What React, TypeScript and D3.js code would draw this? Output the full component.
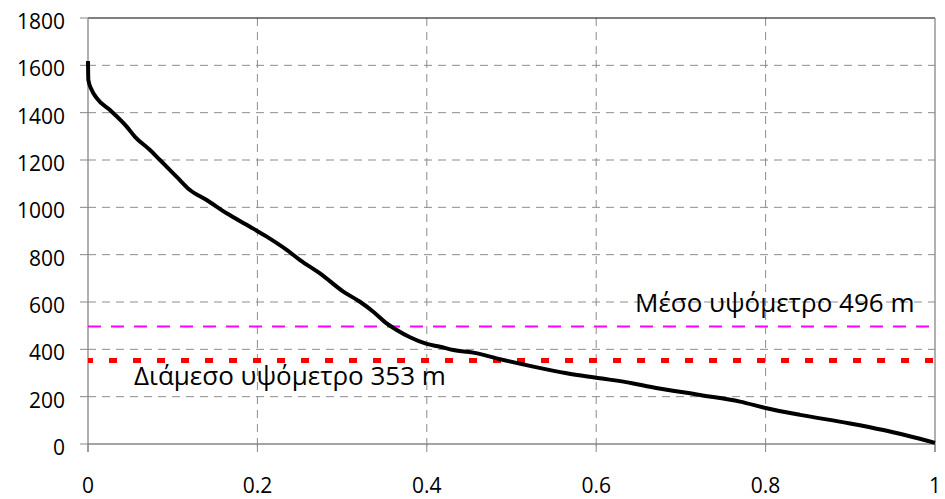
import React from "react";
import * as d3 from "d3";

const shareX = [0, 0.0004, 0.0044, 0.0103, 0.026, 0.0457, 0.0555, 0.0732, 0.085, 0.1047, 0.1204, 0.1401, 0.1637, 0.1913, 0.211, 0.2346, 0.2503, 0.2739, 0.3014, 0.3211, 0.3368, 0.3526, 0.3645, 0.3802, 0.3999, 0.4156, 0.4313, 0.4549, 0.4825, 0.5258, 0.5652, 0.6045, 0.6438, 0.6635, 0.7226, 0.7698, 0.8013, 0.8406, 0.8997, 0.939, 1.0];
const elevation = [1618, 1538, 1496, 1461, 1411, 1341, 1298, 1242, 1200, 1129, 1073, 1031, 975, 918, 876, 820, 777, 721, 644, 601, 559, 510, 482, 451, 423, 411, 397, 386, 362, 327, 299, 278, 256, 242, 207, 179, 151, 123, 87, 59, 5];

const xTicks = [0, 0.2, 0.4, 0.6, 0.8, 1];
const xTickLabels = ["0", "0.2", "0.4", "0.6", "0.8", "1"];
const yTicks = [0, 200, 400, 600, 800, 1000, 1200, 1400, 1600, 1800];

const meanValue = 496;
const medianValue = 353;
const meanLabel = "Μέσο υψόμετρο 496 m";
const medianLabel = "Διάμεσο υψόμετρο 353 m";

const W = 945;
const H = 499;
const left = 88;
const right = 935;
const top = 18;
const bottom = 444;

export default function App() {
  const x = d3.scaleLinear().domain([0, 1]).range([left, right]);
  const y = d3.scaleLinear().domain([0, 1800]).range([bottom, top]);
  const pts: [number, number][] = shareX.map((v, i) => [v, elevation[i]]);
  const line = d3
    .line<[number, number]>()
    .x((d) => x(d[0]))
    .y((d) => y(d[1]))
    .curve(d3.curveMonotoneX);
  const font = "'Open Sans', sans-serif";
  const gridColor = "#8c8c8c";
  const axisColor = "#868686";
  return (
    <svg width={W} height={H} style={{ position: "absolute", left: 0, top: 0, background: "#fff" }}>
      <rect x={0} y={0} width={W} height={H} fill="#fff" />
      {yTicks.filter((t) => t > 0 && t < 1800).map((t) => (
        <line key={"hg" + t} x1={left} x2={right} y1={y(t)} y2={y(t)} stroke={gridColor} strokeWidth={1} strokeDasharray="8,6" />
      ))}
      {xTicks.filter((t) => t > 0 && t < 1).map((t) => (
        <line key={"vg" + t} x1={x(t)} x2={x(t)} y1={top} y2={bottom + 8} stroke={gridColor} strokeWidth={1} strokeDasharray="8,6" />
      ))}
      <line x1={left} x2={right} y1={top} y2={top} stroke="#000" strokeWidth={1} />
      <line x1={right} x2={right} y1={top} y2={bottom + 8} stroke={axisColor} strokeWidth={1.3} />
      <line x1={left} x2={left} y1={top} y2={bottom + 8} stroke={axisColor} strokeWidth={1.3} />
      <line x1={left} x2={right} y1={bottom} y2={bottom} stroke={axisColor} strokeWidth={1.3} />
      {yTicks.map((t) => (
        <line key={"yt" + t} x1={left - 8} x2={left} y1={y(t)} y2={y(t)} stroke={axisColor} strokeWidth={1} />
      ))}
      {xTicks.map((t) => (
        <line key={"xt" + t} x1={x(t)} x2={x(t)} y1={bottom} y2={bottom + 8} stroke={axisColor} strokeWidth={1} />
      ))}
      {yTicks.map((t) => (
        <text key={"yl" + t} x={65} y={y(t) + 11} textAnchor="end" fontFamily={font} fontSize={21} fill="#000">
          {t}
        </text>
      ))}
      {xTicks.map((t, i) => (
        <text key={"xl" + t} x={x(t)} y={493} textAnchor="middle" fontFamily={font} fontSize={21} fill="#000">
          {xTickLabels[i]}
        </text>
      ))}
      <line x1={left} x2={right} y1={y(meanValue)} y2={y(meanValue)} stroke="#ff00ff" strokeWidth={2} strokeDasharray="13,10" />
      <line x1={left} x2={right} y1={y(medianValue)} y2={y(medianValue)} stroke="#ff0000" strokeWidth={5} strokeDasharray="8,16" strokeDashoffset={3} />
      <path d={line(pts) || ""} fill="none" stroke="#000" strokeWidth={4} strokeLinejoin="round" />
      <text x={635} y={312} fontFamily={font} fontSize={26} fill="#000">{meanLabel}</text>
      <text x={134} y={385} fontFamily={font} fontSize={26} fill="#000">{medianLabel}</text>
    </svg>
  );
}
